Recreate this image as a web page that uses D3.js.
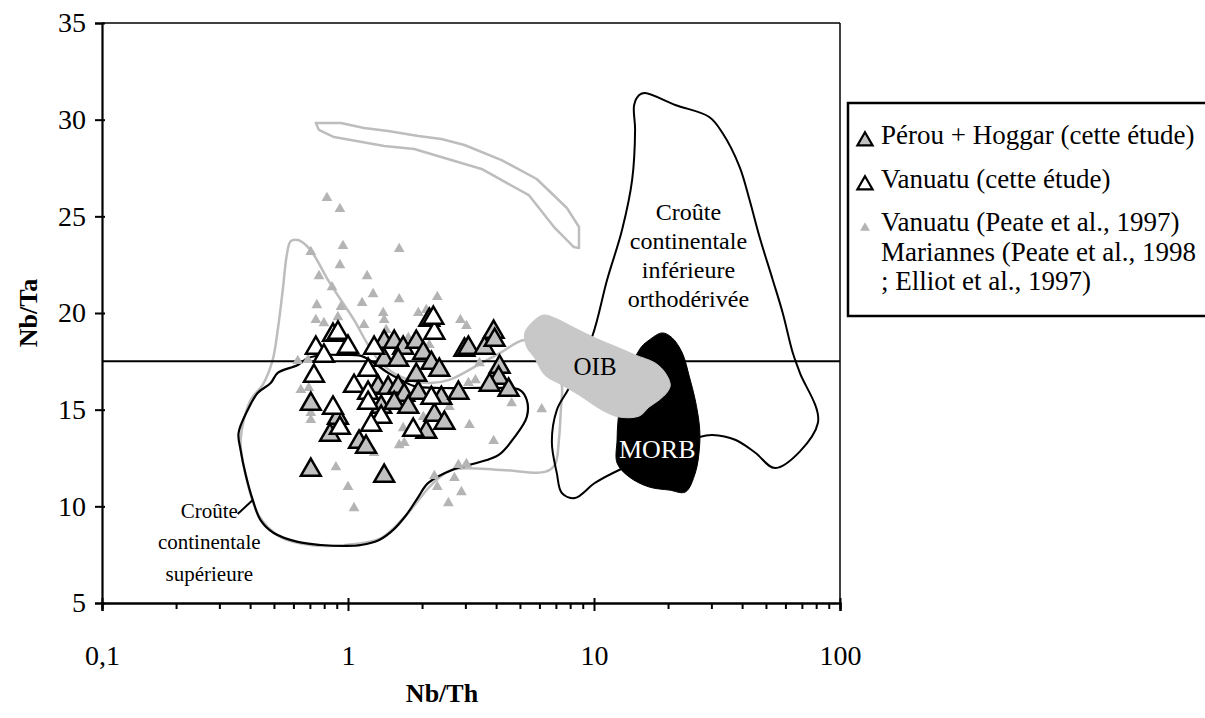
<!DOCTYPE html>
<html><head><meta charset="utf-8">
<script src="https://cdn.jsdelivr.net/npm/d3@7/dist/d3.min.js"></script>
<style>
body{margin:0;background:#fff;}
svg{display:block;font-family:"Liberation Serif","Times New Roman",serif;}
</style></head>
<body>
<svg id="c" width="1205" height="718"></svg>
<script>
// ---- Data (Nb/Th, Nb/Ta) ----
const perouHoggar = [
 [0.706,15.29],[0.910,14.57],[0.845,13.69],[0.706,11.88],[1.403,18.5],[1.541,18.5],[1.676,18.19],
 [1.403,17.57],[1.600,17.57],[1.895,18.5],[2.141,19.64],[2.024,17.93],[2.182,17.41],[2.351,17.05],
 [1.895,16.79],[1.325,16.17],[1.456,16.12],[1.600,16.17],[1.693,15.76],[1.931,15.86],[2.396,15.6],
 [1.364,15.14],[1.541,15.34],[1.758,15.14],[2.244,14.72],[2.465,14.31],[2.081,13.84],[1.109,13.33],
 [1.184,13.07],[1.403,11.57],[2.811,15.86],[2.974,18.09],[3.087,18.19],[3.590,18.19],[3.908,19.02],
 [3.945,18.6],[4.134,17.21],[4.096,16.64],[3.763,16.28],[4.498,16.02]
];
const vanuatuEtude = [
 [0.869,18.86],[0.910,18.97],[0.740,18.19],[0.798,17.78],[1.0,18.24],[0.727,16.74],[0.869,15.09],
 [0.927,14.05],[1.058,16.22],[1.207,17.05],[1.277,18.19],[2.244,18.97],[1.207,15.86],[2.182,15.6],
 [1.207,15.34],[1.364,14.62],[1.241,14.21],[1.841,13.95],[2.223,19.74]
];
const litterature = [
 [0.821,25.95],[0.927,25.38],[0.954,23.47],[1.615,23.31],[0.706,23.16],[0.927,22.48],[0.762,21.91],
 [1.196,21.91],[0.861,21.34],[1.265,20.98],[1.141,20.52],[1.615,20.72],[0.747,20.41],[0.936,20.31],
 [1.390,20.0],[0.910,19.79],[0.740,19.64],[0.798,19.48],[1.162,19.38],[1.403,19.64],[1.429,19.12],
 [2.307,20.83],[1.931,20.0],[2.864,19.64],[3.030,19.33],[1.758,18.71],[2.141,18.35],[0.625,17.52],
 [0.687,17.57],[0.643,16.02],[0.693,16.12],[0.706,14.83],[0.706,14.47],[0.893,12.03],[1.0,11.0],
 [1.058,9.91],[1.277,12.76],[1.615,13.17],[1.676,14.05],[1.693,13.28],[2.024,14.62],[2.583,15.14],
 [3.087,16.38],[3.297,16.53],[3.424,17.41],[4.625,15.34],[6.13,15.03],[3.117,14.21],[3.908,13.38],
 [2.244,11.57],[3.030,12.19],[2.811,12.14],[2.708,11.47],[2.307,11.0],[2.891,10.74],[2.559,10.17],
 [2.081,20.16]
];
// Fields
const crouteSup = [
 [0.359,13.79],[0.391,14.98],[0.429,15.86],[0.485,16.38],[0.518,16.9],[0.625,17.31],[0.687,17.67],
 [0.813,17.83],[0.936,17.83],[1.13,17.78],[1.277,17.41],[1.456,16.9],[1.645,16.53],[1.859,16.22],
 [2.396,16.12],[3.837,16.12],[4.99,16.02],[5.33,15.5],[5.33,14.62],[4.76,13.59],[4.10,12.66],
 [3.33,12.24],[2.71,11.93],[2.12,11.21],[1.93,10.48],[1.725,9.55],[1.527,8.78],[1.339,8.26],
 [1.13,8.0],[0.981,7.95],[0.776,8.0],[0.625,8.16],[0.499,8.62],[0.441,9.29],[0.41,10.33],
 [0.384,11.62],[0.366,12.91]
];
const champGris = [
 [5.23,18.6],[4.21,17.98],[3.27,17.21],[2.56,16.53],[2.12,16.38],[1.645,16.69],[1.364,17.41],
 [1.207,18.35],[1.058,19.64],[0.936,20.67],[0.829,21.71],[0.727,23.0],[0.674,23.52],[0.625,23.78],
 [0.585,23.72],[0.564,23.0],[0.543,21.19],[0.518,19.12],[0.494,17.57],[0.45,16.28],[0.402,15.5],
 [0.366,13.43],[0.384,11.62],[0.433,9.55],[0.533,8.41],[0.706,8.0],[0.981,8.0],[1.364,8.36],
 [1.725,9.55],[2.18,11.1],[2.63,11.88],[4.21,11.88],[6.31,11.78],[6.93,12.14],[7.2,13.43],
 [7.33,14.98],[7.4,16.28],[6.74,18.09]
];
const bandeGrise = [
 [0.740,29.83],[0.936,29.83],[1.162,29.57],[1.456,29.41],[1.931,29.16],[2.396,29.0],[2.974,28.69],
 [4.21,27.91],[5.85,26.93],[7.76,25.43],[8.69,24.45],[8.69,23.36],[8.28,23.41],[6.93,24.4],
 [5.43,26.1],[3.49,27.45],[1.859,28.48],[1.403,28.64],[0.877,29.1],[0.762,29.47]
];
const oib = [
 [6.25,19.9],[5.74,19.64],[5.23,18.97],[5.33,18.24],[5.74,17.67],[6.31,16.79],[7.4,16.28],
 [8.69,15.76],[10.78,14.98],[12.65,14.62],[15.27,14.67],[16.76,15.14],[18.41,15.5],[19.86,15.91],
 [20.42,16.28],[19.5,16.9],[17.74,17.41],[14.7,17.83],[12.65,18.19],[10.1,18.71],[8.36,19.22],
 [6.93,19.74]
];
const morb = [
 [18.96,18.97],[20.8,18.71],[22.86,17.93],[24.43,16.69],[25.8,15.5],[26.85,14.1],[26.85,13.07],
 [25.8,11.72],[23.5,10.74],[20.23,10.84],[16.76,11.0],[13.9,11.52],[12.41,12.24],[12.41,13.43],
 [12.53,14.47],[13.0,15.76],[15.27,18.09],[16.76,18.6]
];
const crouteInf = [
 [15.27,31.28],[16.14,31.38],[21.4,30.76],[29.4,30.14],[33.3,29.31],[39.1,27.55],[42.9,25.84],
 [47.1,23.93],[53.3,21.71],[58.5,20.0],[64.3,17.93],[68.7,16.9],[81.3,14.31],[54.8,11.98],
 [45.4,12.76],[37.7,13.43],[30.3,13.69],[26.85,13.59],[12.65,11.88],[10.09,11.21],[8.36,10.43],
 [7.4,10.69],[7.06,11.72],[6.74,13.33],[7.06,14.98],[7.91,16.12],[9.82,18.76],[11.3,21.71],
 [13.0,24.29],[14.29,26.88],[14.69,29.47],[14.56,30.76]
];
const refNbTa = 17.5;
const xTickMajor = [0.1, 1, 10, 100];
const xTickLabels = ["0,1", "1", "10", "100"];
const yTicks = [5, 10, 15, 20, 25, 30, 35];
const legendItems = [
 {type:"ph", lines:["Pérou + Hoggar (cette étude)"]},
 {type:"va", lines:["Vanuatu (cette étude)"]},
 {type:"lit", lines:["Vanuatu (Peate et al., 1997)","Mariannes (Peate et al., 1998","; Elliot et al., 1997)"]}
];

// ---- Chart ----
const svg = d3.select("#c");
const x = d3.scaleLog().domain([0.1, 100]).range([102, 840]);
const y = d3.scaleLinear().domain([5, 35]).range([603, 23]);

const line = d3.line().x(d => x(d[0])).y(d => y(d[1]));
const smooth = d3.line().x(d => x(d[0])).y(d => y(d[1])).curve(d3.curveCatmullRomClosed.alpha(0.5));
const GRAYLINE = "#bdbdbd";

svg.append("line").attr("x1", x(0.1)).attr("x2", x(100)).attr("y1", y(35)).attr("y2", y(35)).attr("stroke","#000").attr("stroke-width",1.5);
svg.append("line").attr("x1", x(100)).attr("x2", x(100)).attr("y1", y(35)).attr("y2", y(5)).attr("stroke","#000").attr("stroke-width",1.5);

svg.append("path").datum(bandeGrise).attr("d", d => line(d) + "Z").attr("fill","none").attr("stroke",GRAYLINE).attr("stroke-width",2.5).attr("stroke-linejoin","round");
svg.append("path").datum(champGris).attr("d", smooth).attr("fill","none").attr("stroke",GRAYLINE).attr("stroke-width",2.5);
svg.append("path").datum(crouteInf).attr("d", smooth).attr("fill","none").attr("stroke","#000").attr("stroke-width",2).attr("stroke-linejoin","round");
svg.append("line").attr("x1", x(0.1)).attr("x2", x(100)).attr("y1", y(refNbTa)).attr("y2", y(refNbTa)).attr("stroke","#000").attr("stroke-width",2);
svg.append("path").datum(morb).attr("d", smooth).attr("fill","#000").attr("stroke","#000").attr("stroke-width",1);
svg.append("path").datum(oib).attr("d", smooth).attr("fill","#c8c8c8").attr("stroke","#c8c8c8").attr("stroke-width",1);
svg.append("path").datum(crouteSup).attr("d", smooth).attr("fill","none").attr("stroke","#000").attr("stroke-width",2.2);
svg.append("line").attr("x1", x(0.356)).attr("y1", y(9.6)).attr("x2", x(0.41)).attr("y2", y(10.33)).attr("stroke","#000").attr("stroke-width",2);

// labels in fields
const lab = svg.append("g").attr("text-anchor","middle");
lab.append("text").attr("font-size",21).attr("x", x(0.273)).attr("y", y(9.4)).attr("dy","0.6em")
 .selectAll("tspan").data(["Croûte","continentale","supérieure"]).join("tspan")
 .attr("x", x(0.273)).attr("dy",(d,i)=> i? "1.5em":0).text(d=>d);
lab.append("text").attr("font-size",24).attr("x", x(24.2)).attr("y", y(24.8)).attr("dy","0.55em")
 .selectAll("tspan").data(["Croûte","continentale","inférieure","orthodérivée"]).join("tspan")
 .attr("x", x(24.2)).attr("dy",(d,i)=> i? "1.2em":0).text(d=>d);
lab.append("text").attr("font-size",25).attr("x", x(10.1)).attr("y", y(17.26)).attr("dy","0.35em").text("OIB");
lab.append("text").attr("font-size",26).attr("x", x(18.07)).attr("y", y(12.97)).attr("dy","0.35em").attr("fill","#fff").text("MORB");

// points
const triSmall = d3.symbol(d3.symbolTriangle, 50)();
const triBig = d3.symbol(d3.symbolTriangle, 170)();
svg.append("g").selectAll("path").data(litterature).join("path")
 .attr("d", triSmall).attr("transform", d => `translate(${x(d[0])},${y(d[1])})`).attr("fill","#b4b4b4");
svg.append("g").selectAll("path").data(perouHoggar).join("path")
 .attr("d", triBig).attr("transform", d => `translate(${x(d[0])},${y(d[1])})`)
 .attr("fill","#c0c0c0").attr("stroke","#000").attr("stroke-width",2.5);
svg.append("g").selectAll("path").data(vanuatuEtude).join("path")
 .attr("d", triBig).attr("transform", d => `translate(${x(d[0])},${y(d[1])})`)
 .attr("fill","#fff").attr("stroke","#000").attr("stroke-width",2.5);

// axes
const xMinor = [];
[0.1,1,10].forEach(b => { for (let k=2;k<=9;k++) xMinor.push(b*k); });
const gxm = svg.append("g").attr("transform",`translate(0,${y(5)})`)
 .call(d3.axisBottom(x).tickValues(xMinor).tickSize(6).tickFormat(""));
const gx = svg.append("g").attr("transform",`translate(0,${y(5)})`)
 .call(d3.axisBottom(x).tickValues(xTickMajor).tickSize(8).tickPadding(34).tickFormat((d,i)=>xTickLabels[i]));
[gxm,gx].forEach(g=>{ g.select(".domain").attr("stroke-width",2.2); g.selectAll(".tick line").attr("stroke-width",2); });
gx.selectAll(".tick line").attr("y1",-5);
gx.selectAll("text").attr("font-size",28).attr("font-family","Liberation Serif").attr("fill","#000");
const gy = svg.append("g").attr("transform",`translate(${x(0.1)},0)`)
 .call(d3.axisLeft(y).tickValues(yTicks).tickSize(7).tickPadding(9));
gy.select(".domain").attr("stroke-width",2.2);
gy.selectAll(".tick line").attr("stroke-width",2).attr("x1",3);
gy.selectAll("text").attr("font-size",28).attr("font-family","Liberation Serif").attr("fill","#000");

svg.append("text").attr("x", 442).attr("y", 693).attr("dy","0.35em").attr("text-anchor","middle")
 .attr("font-size",26).attr("font-weight","bold").text("Nb/Th");
svg.append("text").attr("transform","translate(28,313) rotate(-90)").attr("dy","0.35em").attr("text-anchor","middle")
 .attr("font-size",26).attr("font-weight","bold").text("Nb/Ta");

// legend
const lg = svg.append("g");
lg.append("rect").attr("x",848).attr("y",103).attr("width",400).attr("height",213).attr("fill","#fff").attr("stroke","#000").attr("stroke-width",2.5);
const legTri = d3.symbol(d3.symbolTriangle, 100)();
const legTriS = d3.symbol(d3.symbolTriangle, 42)();
const rowY = [144, 188, 231];
legendItems.forEach((it,i)=>{
  const ty = rowY[i];
  const m = lg.append("path").attr("transform",`translate(865,${ty-3})`);
  if (it.type==="ph") m.attr("d",legTri).attr("fill","#c0c0c0").attr("stroke","#000").attr("stroke-width",2.2);
  else if (it.type==="va") m.attr("d",legTri).attr("fill","#fff").attr("stroke","#000").attr("stroke-width",2.2);
  else m.attr("d",legTriS).attr("fill","#b4b4b4");
  const t = lg.append("text").attr("font-size",27).attr("y",ty).attr("dy","0.45em");
  t.selectAll("tspan").data(it.lines).join("tspan").attr("x",881).attr("dy",(d,j)=> j? "1.1em":0).text(d=>d);
});
</script>
</body></html>
